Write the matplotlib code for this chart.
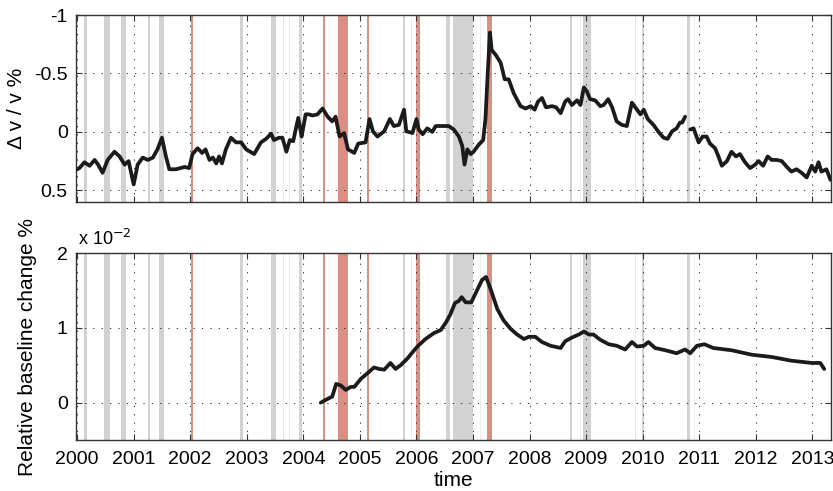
import numpy as np
import matplotlib
matplotlib.use("Agg")
import matplotlib.pyplot as plt

plt.rcParams['font.family'] = ['Liberation Sans', 'DejaVu Sans']

# dv/v (%), NaN marks the gap late 2010
dvv_t = [2000.0, 2000.04, 2000.13, 2000.22, 2000.31, 2000.37, 2000.45, 2000.54, 2000.66, 2000.75,
         2000.84, 2000.91, 2001.0, 2001.07, 2001.16, 2001.25, 2001.34, 2001.42, 2001.5, 2001.57,
         2001.63, 2001.75, 2001.9, 2001.98, 2002.04, 2002.13, 2002.21, 2002.27, 2002.34, 2002.4,
         2002.46, 2002.51, 2002.56, 2002.63, 2002.72, 2002.81, 2002.9, 2002.99, 2003.13, 2003.25,
         2003.34, 2003.43, 2003.48, 2003.57, 2003.63, 2003.7, 2003.76, 2003.82, 2003.87, 2003.91,
         2003.97, 2004.04, 2004.1, 2004.16, 2004.25, 2004.34, 2004.43, 2004.51, 2004.57, 2004.64,
         2004.72, 2004.79, 2004.9, 2004.97, 2005.1, 2005.17, 2005.23, 2005.31, 2005.43, 2005.53,
         2005.6, 2005.69, 2005.78, 2005.82, 2005.93, 2006.0, 2006.04, 2006.11, 2006.19, 2006.28,
         2006.34, 2006.46, 2006.57, 2006.66, 2006.75, 2006.81, 2006.85, 2006.9, 2006.96, 2007.01,
         2007.1, 2007.18, 2007.22, 2007.26, 2007.3, 2007.33, 2007.4, 2007.49, 2007.56, 2007.63,
         2007.72, 2007.84, 2007.93, 2008.02, 2008.09, 2008.15, 2008.22, 2008.29, 2008.4, 2008.47,
         2008.55, 2008.63, 2008.68, 2008.75, 2008.84, 2008.9, 2008.96, 2009.01, 2009.07, 2009.16,
         2009.25, 2009.31, 2009.39, 2009.46, 2009.54, 2009.63, 2009.72, 2009.81, 2009.9, 2009.96,
         2010.02, 2010.09, 2010.19, 2010.28, 2010.37, 2010.44, 2010.52, 2010.6, 2010.66, 2010.7,
         2010.75, 2010.8, 2010.84, 2010.9, 2010.99, 2011.06, 2011.13, 2011.19, 2011.28, 2011.34,
         2011.4, 2011.49, 2011.57, 2011.65, 2011.72, 2011.81, 2011.9, 2011.99, 2012.05, 2012.13,
         2012.21, 2012.28, 2012.37, 2012.46, 2012.55, 2012.63, 2012.72, 2012.81, 2012.9, 2012.99,
         2013.05, 2013.11, 2013.16, 2013.25, 2013.32]
dvv = [0.32, 0.31, 0.26, 0.29, 0.24, 0.28, 0.35, 0.24, 0.17, 0.21,
       0.28, 0.25, 0.45, 0.28, 0.22, 0.24, 0.22, 0.15, 0.05, 0.21,
       0.32, 0.32, 0.30, 0.31, 0.19, 0.14, 0.18, 0.15, 0.24, 0.22,
       0.27, 0.21, 0.27, 0.15, 0.05, 0.09, 0.09, 0.15, 0.19, 0.09,
       0.06, 0.015, 0.07, 0.05, 0.05, 0.17, 0.07, 0.08, -0.03, -0.12,
       0.04, -0.15, -0.15, -0.14, -0.15, -0.20, -0.13, -0.09, -0.13, 0.04,
       0.01, 0.15, 0.18, 0.10, 0.09, -0.11, -0.005, 0.04, -0.005, -0.11,
       -0.05, -0.06, -0.19, -0.005, 0.01, -0.11, -0.02, 0.02, -0.03, 0.0,
       -0.05, -0.05, -0.05, -0.02, 0.04, 0.12, 0.28, 0.15, 0.19, 0.17,
       0.11, 0.07, -0.11, -0.50, -0.85, -0.70, -0.66, -0.59, -0.45, -0.45,
       -0.33, -0.22, -0.20, -0.22, -0.19, -0.26, -0.29, -0.21, -0.22, -0.21,
       -0.16, -0.26, -0.28, -0.23, -0.27, -0.23, -0.38, -0.35, -0.28, -0.27,
       -0.22, -0.23, -0.28, -0.21, -0.09, -0.06, -0.05, -0.25, -0.19, -0.15,
       -0.19, -0.11, -0.06, 0.0, 0.05, 0.06, -0.005, -0.03, -0.08, -0.08,
       -0.13, np.nan, -0.02, -0.03, 0.09, 0.04, 0.04, 0.10, 0.14, 0.21,
       0.29, 0.25, 0.17, 0.21, 0.19, 0.26, 0.31, 0.28, 0.25, 0.29,
       0.21, 0.24, 0.24, 0.25, 0.30, 0.34, 0.32, 0.35, 0.39, 0.29,
       0.34, 0.26, 0.34, 0.32, 0.41]

# relative baseline change (x 1e-2 %), bottom panel
base_t = [2004.31, 2004.43, 2004.51, 2004.58, 2004.66, 2004.75, 2004.84, 2004.9, 2005.02, 2005.13,
          2005.25, 2005.34, 2005.43, 2005.54, 2005.63, 2005.72, 2005.84, 2005.96, 2006.03, 2006.16,
          2006.31, 2006.43, 2006.52, 2006.6, 2006.68, 2006.75, 2006.8, 2006.87, 2006.97, 2007.07,
          2007.16, 2007.23, 2007.31, 2007.43, 2007.54, 2007.66, 2007.78, 2007.9, 2007.99, 2008.1,
          2008.22, 2008.37, 2008.55, 2008.63, 2008.75, 2008.87, 2008.96, 2009.05, 2009.13, 2009.25,
          2009.4, 2009.54, 2009.69, 2009.81, 2009.9, 2010.02, 2010.1, 2010.22, 2010.4, 2010.6,
          2010.75, 2010.84, 2010.96, 2011.09, 2011.25, 2011.57, 2011.93, 2012.28, 2012.63, 2012.99,
          2013.14, 2013.21]
base = [0.0, 0.05, 0.08, 0.25, 0.23, 0.17, 0.21, 0.21, 0.32, 0.39,
        0.47, 0.45, 0.44, 0.53, 0.45, 0.50, 0.59, 0.70, 0.76, 0.85,
        0.93, 0.97, 1.07, 1.18, 1.33, 1.36, 1.41, 1.34, 1.34, 1.50,
        1.64, 1.68, 1.52, 1.25, 1.10, 0.99, 0.91, 0.85, 0.88, 0.88,
        0.81, 0.76, 0.73, 0.82, 0.87, 0.91, 0.95, 0.91, 0.91, 0.84,
        0.78, 0.76, 0.71, 0.81, 0.75, 0.76, 0.81, 0.73, 0.70, 0.66,
        0.71, 0.66, 0.76, 0.78, 0.73, 0.70, 0.64, 0.61, 0.56, 0.53,
        0.53, 0.45]

# shaded periods (start, end) in decimal years
gray_bands = [(2000.13, 2000.18), (2000.48, 2000.58), (2000.78, 2000.87), (2001.25, 2001.28),
              (2001.45, 2001.53), (2002.88, 2002.94), (2003.43, 2003.51), (2003.93, 2003.97),
              (2005.76, 2005.80), (2006.53, 2006.60), (2006.64, 2007.00), (2008.71, 2008.75),
              (2008.94, 2009.09), (2009.98, 2010.03), (2010.78, 2010.83)]
light_bands = [(2003.64, 2003.66), (2003.75, 2003.76), (2005.90, 2005.92), (2007.12, 2007.14),
               (2008.89, 2008.91), (2009.86, 2009.88), (2010.90, 2010.93)]
red_bands = [(2002.01, 2002.045), (2004.34, 2004.385), (2004.61, 2004.79), (2005.12, 2005.155),
             (2005.99, 2006.06), (2007.24, 2007.33)]

years = list(range(2000, 2014))

GRAY = '#d1d2d4'
LIGHT = '#ebebeb'
RED = '#d98f82'
LINE = '#1c1a1a'
XMIN, XMAX = 1999.98, 2013.33

fig = plt.figure(figsize=(8.33, 4.91), dpi=100)
ax1 = fig.add_axes([76 / 833, 1 - 202 / 491, 755 / 833, 187 / 491])
ax2 = fig.add_axes([76 / 833, 1 - 440 / 491, 755 / 833, 187 / 491])


def style(ax):
    for a, b in light_bands:
        ax.axvspan(a, b, color=LIGHT, lw=0, zorder=0.5)
    for a, b in gray_bands:
        ax.axvspan(a, b, color=GRAY, lw=0, zorder=0.6)
    for a, b in red_bands:
        ax.axvspan(a, b, color=RED, lw=0, zorder=0.7)
    ax.set_xlim(XMIN, XMAX)
    ax.set_xticks(years)
    ax.grid(True, color='#333333', linestyle=(0, (1.3, 7.3)), linewidth=0.7)
    ax.tick_params(direction='in', top=True, right=True, length=4, width=0.8,
                   color='#333333', labelsize=14, pad=6)
    for s in ax.spines.values():
        s.set_color('#333333')
        s.set_linewidth(1.0)


style(ax1)
ax1.plot(dvv_t, dvv, color=LINE, lw=2.7, zorder=3, solid_capstyle='round')
ax1.set_ylim(0.6, -1.0)
ax1.set_yticks([-1, -0.5, 0, 0.5])
ax1.set_yticklabels(['-1', '-0.5', '0', '0.5'])
ax1.set_xticklabels([])
ax1.set_ylabel('Δ v / v %', fontsize=15, labelpad=6)

style(ax2)
ax2.plot(base_t, base, color=LINE, lw=2.7, zorder=3, solid_capstyle='round')
ax2.set_ylim(-0.5, 2.0)
ax2.set_yticks([0, 1, 2])
ax2.set_yticklabels(['0', '1', '2'])
ax2.set_xticklabels([str(y) for y in years])
ax2.tick_params(axis='x', pad=8)
ax2.set_ylabel('Relative baseline change %', fontsize=15, labelpad=14)
ax2.set_xlabel('time', fontsize=15, labelpad=2)
ax2.text(0.003, 1.02, 'x 10$^{-2}$', transform=ax2.transAxes, fontsize=13,
         ha='left', va='bottom')

fig.savefig('out.png', dpi=100)
